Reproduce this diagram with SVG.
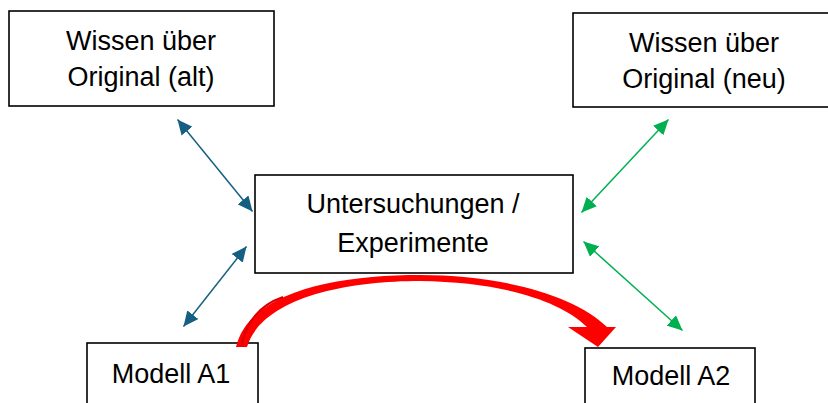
<svg xmlns="http://www.w3.org/2000/svg" width="828" height="403" viewBox="0 0 828 403">
  <style>
    .box { fill: #ffffff; stroke: #000000; stroke-width: 1.6; }
    .lbl { font-family: "Liberation Sans", Arial, sans-serif; font-size: 27px; fill: #000000; text-anchor: middle; }
    .blue { stroke: #156082; stroke-width: 1.5; fill: none; marker-start: url(#hb); marker-end: url(#hb); }
    .green { stroke: #00B050; stroke-width: 1.5; fill: none; marker-start: url(#hg); marker-end: url(#hg); }
  </style>
  <defs>
    <marker id="hb" markerUnits="userSpaceOnUse" markerWidth="16" markerHeight="14" refX="15" refY="7" orient="auto-start-reverse">
      <path d="M0,0 L15,7 L0,14 Z" fill="#156082"/>
    </marker>
    <marker id="hg" markerUnits="userSpaceOnUse" markerWidth="16" markerHeight="14" refX="15" refY="7" orient="auto-start-reverse">
      <path d="M0,0 L15,7 L0,14 Z" fill="#00B050"/>
    </marker>
  </defs>
  <rect width="828" height="403" fill="#ffffff"/>

  <g id="node-wissen-alt">
    <rect class="box" x="9" y="11" width="265" height="95"/>
    <text class="lbl" x="141" y="50">Wissen über</text>
    <text class="lbl" x="141" y="86">Original (alt)</text>
  </g>
  <g id="node-wissen-neu">
    <rect class="box" x="573" y="13" width="258" height="94"/>
    <text class="lbl" x="704" y="52">Wissen über</text>
    <text class="lbl" x="704" y="88">Original (neu)</text>
  </g>
  <g id="node-untersuchungen">
    <rect class="box" x="255" y="175" width="318" height="98"/>
    <text class="lbl" x="413" y="213">Untersuchungen /</text>
    <text class="lbl" x="413" y="252">Experimente</text>
  </g>
  <g id="node-modell-a1">
    <rect class="box" x="87" y="343" width="171" height="62"/>
    <text class="lbl" x="171" y="383">Modell A1</text>
  </g>
  <g id="node-modell-a2">
    <rect class="box" x="585" y="348" width="170" height="60"/>
    <text class="lbl" x="671" y="385">Modell A2</text>
  </g>

  <g id="connectors">
    <line class="blue" x1="177.5" y1="119.5" x2="252.5" y2="211.5"/>
    <line class="blue" x1="246.5" y1="246.5" x2="183.5" y2="326.5"/>
    <line class="green" x1="668.5" y1="119.5" x2="581.5" y2="212.5"/>
    <line class="green" x1="583.5" y1="241.5" x2="682.5" y2="330.5"/>
    <path d="M236,347 C250,290 340,275 420,275 C500,275 575,295 607,327 L616,327 L598,347 L568,327 L587,327 C560,300 500,282 420,281 C345,281 262,298 247,347 Z" fill="#FF0000"/>
    <path d="M241.5,346 C246,322 260,305 283,297" fill="none" stroke="#D80000" stroke-width="2"/>
  </g>
</svg>
